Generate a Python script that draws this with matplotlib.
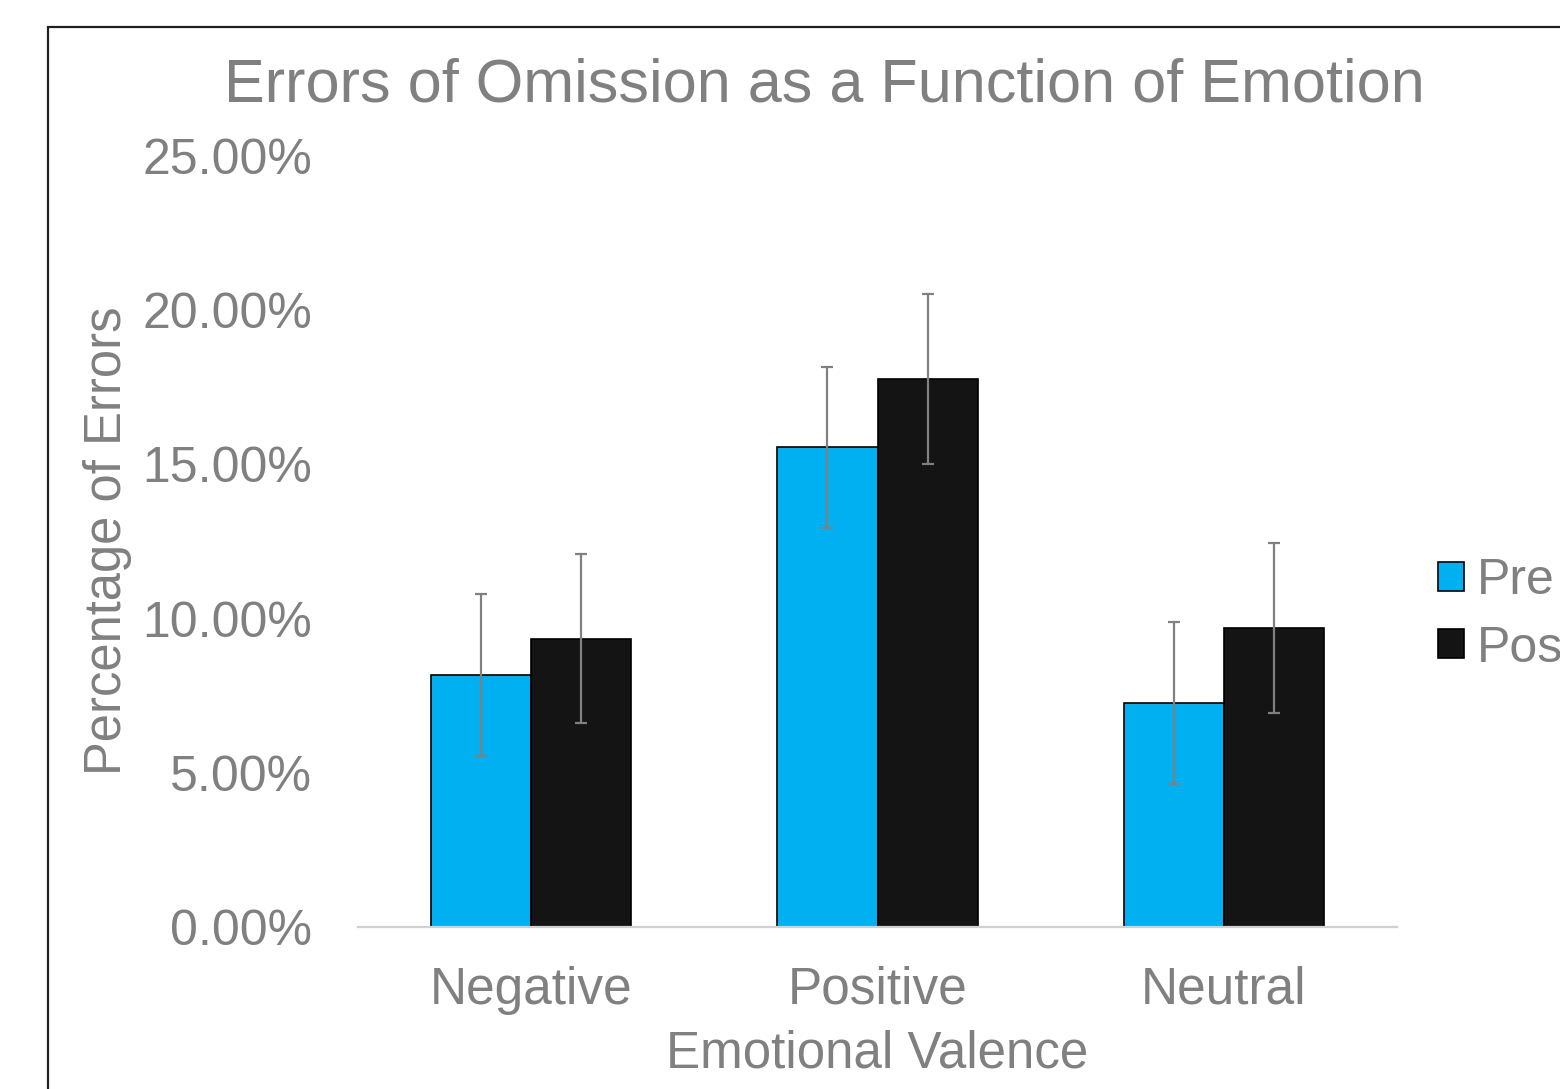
import numpy as np
import matplotlib.pyplot as plt
from matplotlib.patches import Rectangle
from matplotlib.ticker import PercentFormatter

plt.rcParams['font.family'] = ['Liberation Sans', 'DejaVu Sans']

# data (percent)
categories = ["Negative", "Positive", "Neutral"]
pre_vals = [8.17, 15.56, 7.26]
post_vals = [9.34, 17.77, 9.70]
pre_err = [2.63, 2.61, 2.63]
post_err = [2.74, 2.76, 2.76]
series_names = ["Pre", "Post"]

GRAY = '#808080'
BLUE = '#00B0F0'
BLACK = '#141414'

fig = plt.figure(figsize=(15.6, 10.89), dpi=100)
ax = fig.add_axes([358/1560, 1-927/1089, (1397-358)/1560, (927-156)/1089])

x = np.arange(len(categories))
w = 0.289
b1 = ax.bar(x - w/2, pre_vals, w, color=BLUE, edgecolor='black', linewidth=1.2,
            label=series_names[0])
b2 = ax.bar(x + w/2, post_vals, w, color=BLACK, edgecolor='black', linewidth=1.2,
            label=series_names[1])
ax.errorbar(x - w/2, pre_vals, yerr=pre_err, fmt='none', ecolor=GRAY,
            elinewidth=1.6, capsize=4, capthick=1.6)
ax.errorbar(x + w/2, post_vals, yerr=post_err, fmt='none', ecolor=GRAY,
            elinewidth=1.6, capsize=4, capthick=1.6)

ax.set_xlim(-0.5, 2.5)
ax.set_ylim(0, 25)
ax.set_yticks(np.arange(0, 26, 5))
ax.yaxis.set_major_formatter(PercentFormatter(decimals=2))
ax.set_xticks(x)
ax.set_xticklabels(categories)
for s in ['top', 'right', 'left']:
    ax.spines[s].set_visible(False)
ax.spines['bottom'].set_color('#D0D0D0')
ax.spines['bottom'].set_linewidth(1.6)
ax.tick_params(axis='y', length=0, colors=GRAY, labelsize=36, pad=33)
ax.tick_params(axis='x', length=0, colors=GRAY, labelsize=37, pad=28)

fig.text(824/1560, 1-101/1089, "Errors of Omission as a Function of Emotion",
         ha='center', va='baseline', fontsize=44, color=GRAY)
fig.text(877/1560, 1-1068/1089, "Emotional Valence", ha='center', va='baseline',
         fontsize=36.8, color=GRAY)
fig.text(107/1560, 1-541/1089, "Percentage of Errors", ha='center', va='center',
         rotation=90, fontsize=36.5, color=GRAY)

leg = fig.legend(handles=[b1, b2], loc='center left',
                 bbox_to_anchor=(1438/1560, 1-615/1089), frameon=False,
                 fontsize=36, labelcolor=GRAY, handlelength=0.52,
                 handleheight=0.52, handletextpad=0.25, labelspacing=0.42,
                 borderpad=0, borderaxespad=0)

fig.patches.append(Rectangle((48/1560, -0.1), 1.2, 1-27/1089 + 0.1,
                             transform=fig.transFigure, fill=False,
                             edgecolor='#202020', linewidth=1.6))

fig.savefig('out.png', dpi=100)
